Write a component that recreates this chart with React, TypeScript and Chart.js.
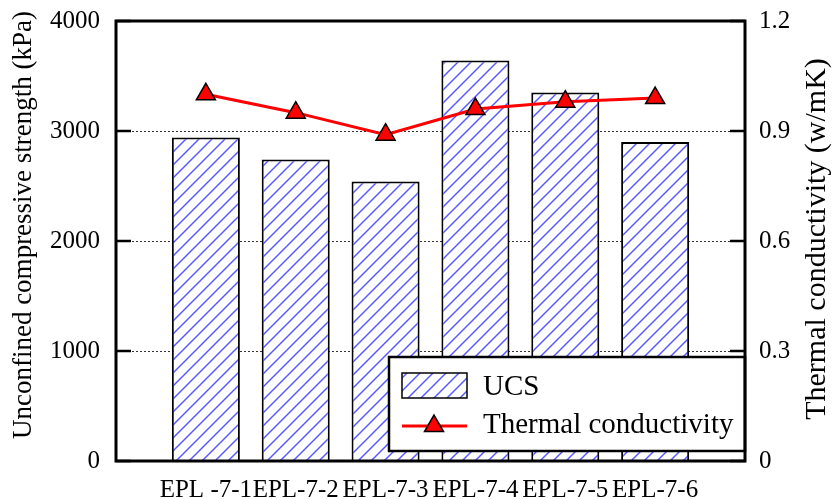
import { useEffect, useRef } from 'react';
import { Chart, registerables } from 'chart.js';

Chart.register(...registerables);

const categories = ['EPL -7-1', 'EPL-7-2', 'EPL-7-3', 'EPL-7-4', 'EPL-7-5', 'EPL-7-6'];
const ucsValues = [2940, 2740, 2540, 3640, 3350, 2900];
const conductivityValues = [1.0, 0.95, 0.89, 0.96, 0.98, 0.99];
const leftTicks = [0, 1000, 2000, 3000, 4000];
const rightTicks = [0, 0.3, 0.6, 0.9, 1.2];
const seriesNames = ['UCS', 'Thermal conductivity'];
const axisTitles = ['Unconfined compressive strength (kPa)', 'Thermal conductivity (w/mK)'];

const FONT = '"Liberation Serif", "Times New Roman", serif';
const HATCH_COLOR = 'rgb(90,90,255)';
const RED = 'rgb(255,0,0)';

function makeHatch(): CanvasPattern | string {
  const s = 13;
  const c = document.createElement('canvas');
  c.width = s;
  c.height = s;
  const g = c.getContext('2d');
  if (!g) return '#fff';
  g.fillStyle = '#fff';
  g.fillRect(0, 0, s, s);
  g.strokeStyle = HATCH_COLOR;
  g.lineWidth = 1.5;
  g.beginPath();
  g.moveTo(-2, s + 2);
  g.lineTo(s + 2, -2);
  g.moveTo(-2, 2);
  g.lineTo(2, -2);
  g.moveTo(s - 2, s + 2);
  g.lineTo(s + 2, s - 2);
  g.stroke();
  return g.createPattern(c, 'repeat') || '#fff';
}

function triangle(ctx: CanvasRenderingContext2D, x: number, y: number, r: number) {
  ctx.beginPath();
  let rad = 0;
  ctx.moveTo(x + Math.sin(rad) * r, y - Math.cos(rad) * r);
  rad += (2 * Math.PI) / 3;
  ctx.lineTo(x + Math.sin(rad) * r, y - Math.cos(rad) * r);
  rad += (2 * Math.PI) / 3;
  ctx.lineTo(x + Math.sin(rad) * r, y - Math.cos(rad) * r);
  ctx.closePath();
  ctx.fillStyle = RED;
  ctx.fill();
  ctx.strokeStyle = '#000';
  ctx.lineWidth = 1.5;
  ctx.stroke();
}

const noPad = (s: any) => {
  s.paddingTop = 0;
  s.paddingBottom = 0;
  s.paddingLeft = 0;
  s.paddingRight = 0;
};

export default function App() {
  const ref = useRef<HTMLCanvasElement>(null);

  useEffect(() => {
    if (!ref.current) return;
    const hatch = makeHatch();
    const labels = ['', ...categories, ''];
    const barData = [null, ...ucsValues, null];
    const lineData = [null, ...conductivityValues, null];

    const decor = {
      id: 'decor',
      afterDatasetsDraw(chart: any) {
        const { ctx, chartArea: a, scales } = chart;
        const y = scales.y;
        const y1 = scales.y1;
        ctx.save();
        ctx.strokeStyle = '#000';
        ctx.lineWidth = 2.5;
        ctx.beginPath();
        leftTicks.forEach((v) => {
          const py = y.getPixelForValue(v);
          ctx.moveTo(a.left, py);
          ctx.lineTo(a.left + 15, py);
        });
        rightTicks.forEach((v) => {
          const py = y1.getPixelForValue(v);
          ctx.moveTo(a.right, py);
          ctx.lineTo(a.right - 15, py);
        });
        ctx.stroke();

        // legend box
        const lx = 389, ly = 357, lw = a.right - 389, lh = 94;
        ctx.fillStyle = '#fff';
        ctx.fillRect(lx, ly, lw, lh);
        ctx.lineWidth = 2.5;
        ctx.strokeStyle = '#000';
        ctx.strokeRect(lx, ly, lw, lh);
        // UCS swatch
        ctx.fillStyle = hatch as any;
        ctx.fillRect(402, 373, 65, 25);
        ctx.lineWidth = 1.5;
        ctx.strokeRect(402, 373, 65, 25);
        // line swatch
        ctx.strokeStyle = RED;
        ctx.lineWidth = 3;
        ctx.beginPath();
        ctx.moveTo(402, 426);
        ctx.lineTo(467, 426);
        ctx.stroke();
        triangle(ctx, 434, 426, 11);
        ctx.fillStyle = '#000';
        ctx.font = `29px ${FONT}`;
        ctx.textAlign = 'left';
        ctx.textBaseline = 'alphabetic';
        ctx.fillText(seriesNames[0], 483, 395);
        ctx.fillText(seriesNames[1], 483, 433);

        // frame
        ctx.strokeStyle = '#000';
        ctx.lineWidth = 3;
        ctx.strokeRect(a.left, a.top, a.right - a.left, a.bottom - a.top);

        // axis titles
        ctx.fillStyle = '#000';
        ctx.textAlign = 'center';
        ctx.textBaseline = 'middle';
        ctx.save();
        ctx.translate(24, 225);
        ctx.rotate(-Math.PI / 2);
        ctx.font = `27px ${FONT}`;
        ctx.fillText(axisTitles[0], 0, 0);
        ctx.restore();
        ctx.save();
        ctx.translate(817, 239);
        ctx.rotate(-Math.PI / 2);
        ctx.font = `30px ${FONT}`;
        ctx.fillText(axisTitles[1], 0, 0);
        ctx.restore();
        ctx.restore();
      },
    };

    const tickFont = { family: FONT, size: 25 };

    const chart = new Chart(ref.current, {
      type: 'bar',
      data: {
        labels,
        datasets: [
          {
            type: 'line',
            label: seriesNames[1],
            data: lineData,
            yAxisID: 'y1',
            borderColor: RED,
            borderWidth: 3,
            pointStyle: 'triangle',
            pointRadius: 11,
            pointHoverRadius: 11,
            pointBackgroundColor: RED,
            pointBorderColor: '#000',
            pointBorderWidth: 1.5,
            order: 0,
          } as any,
          {
            type: 'bar',
            label: seriesNames[0],
            data: barData,
            yAxisID: 'y',
            backgroundColor: hatch as any,
            borderColor: '#000',
            borderWidth: 2,
            categoryPercentage: 1,
            barPercentage: 0.757,
            order: 1,
          } as any,
        ],
      },
      options: {
        animation: false,
        responsive: false,
        maintainAspectRatio: false,
        layout: { padding: { top: 21, left: 0, right: 0, bottom: 0 } },
        plugins: { legend: { display: false }, tooltip: { enabled: false } },
        scales: {
          x: {
            type: 'category',
            offset: false,
            grid: { display: false },
            border: { display: false },
            ticks: {
              autoSkip: false,
              maxRotation: 0,
              minRotation: 0,
              padding: 6,
              color: '#000',
              font: tickFont,
            },
            afterFit: (s: any) => {
              s.height = 38;
              noPad(s);
            },
          },
          y: {
            position: 'left',
            min: 0,
            max: 4000,
            afterBuildTicks: (s: any) => {
              s.ticks = leftTicks.map((value) => ({ value }));
            },
            grid: {
              color: (c: any) =>
                c.tick && (c.tick.value === 0 || c.tick.value === 4000) ? 'rgba(0,0,0,0)' : '#333',
              lineWidth: 1,
              drawTicks: false,
            },
            border: { display: false, dash: [2, 2] },
            ticks: {
              padding: 16,
              color: '#000',
              font: tickFont,
              callback: (v: any) => String(v),
            },
            afterFit: (s: any) => {
              s.width = 116;
              noPad(s);
            },
          },
          y1: {
            position: 'right',
            min: 0,
            max: 1.2,
            afterBuildTicks: (s: any) => {
              s.ticks = rightTicks.map((value) => ({ value }));
            },
            grid: { drawOnChartArea: false, drawTicks: false },
            border: { display: false },
            ticks: {
              padding: 14,
              color: '#000',
              font: tickFont,
              callback: (v: any) => String(v),
            },
            afterFit: (s: any) => {
              s.width = 91;
              noPad(s);
            },
          },
        },
      },
      plugins: [decor],
    });
    return () => chart.destroy();
  }, []);

  return (
    <div style={{ position: 'absolute', left: 0, top: 0, width: 836, height: 499 }}>
      <canvas ref={ref} width={836} height={499} style={{ display: 'block' }} />
    </div>
  );
}
